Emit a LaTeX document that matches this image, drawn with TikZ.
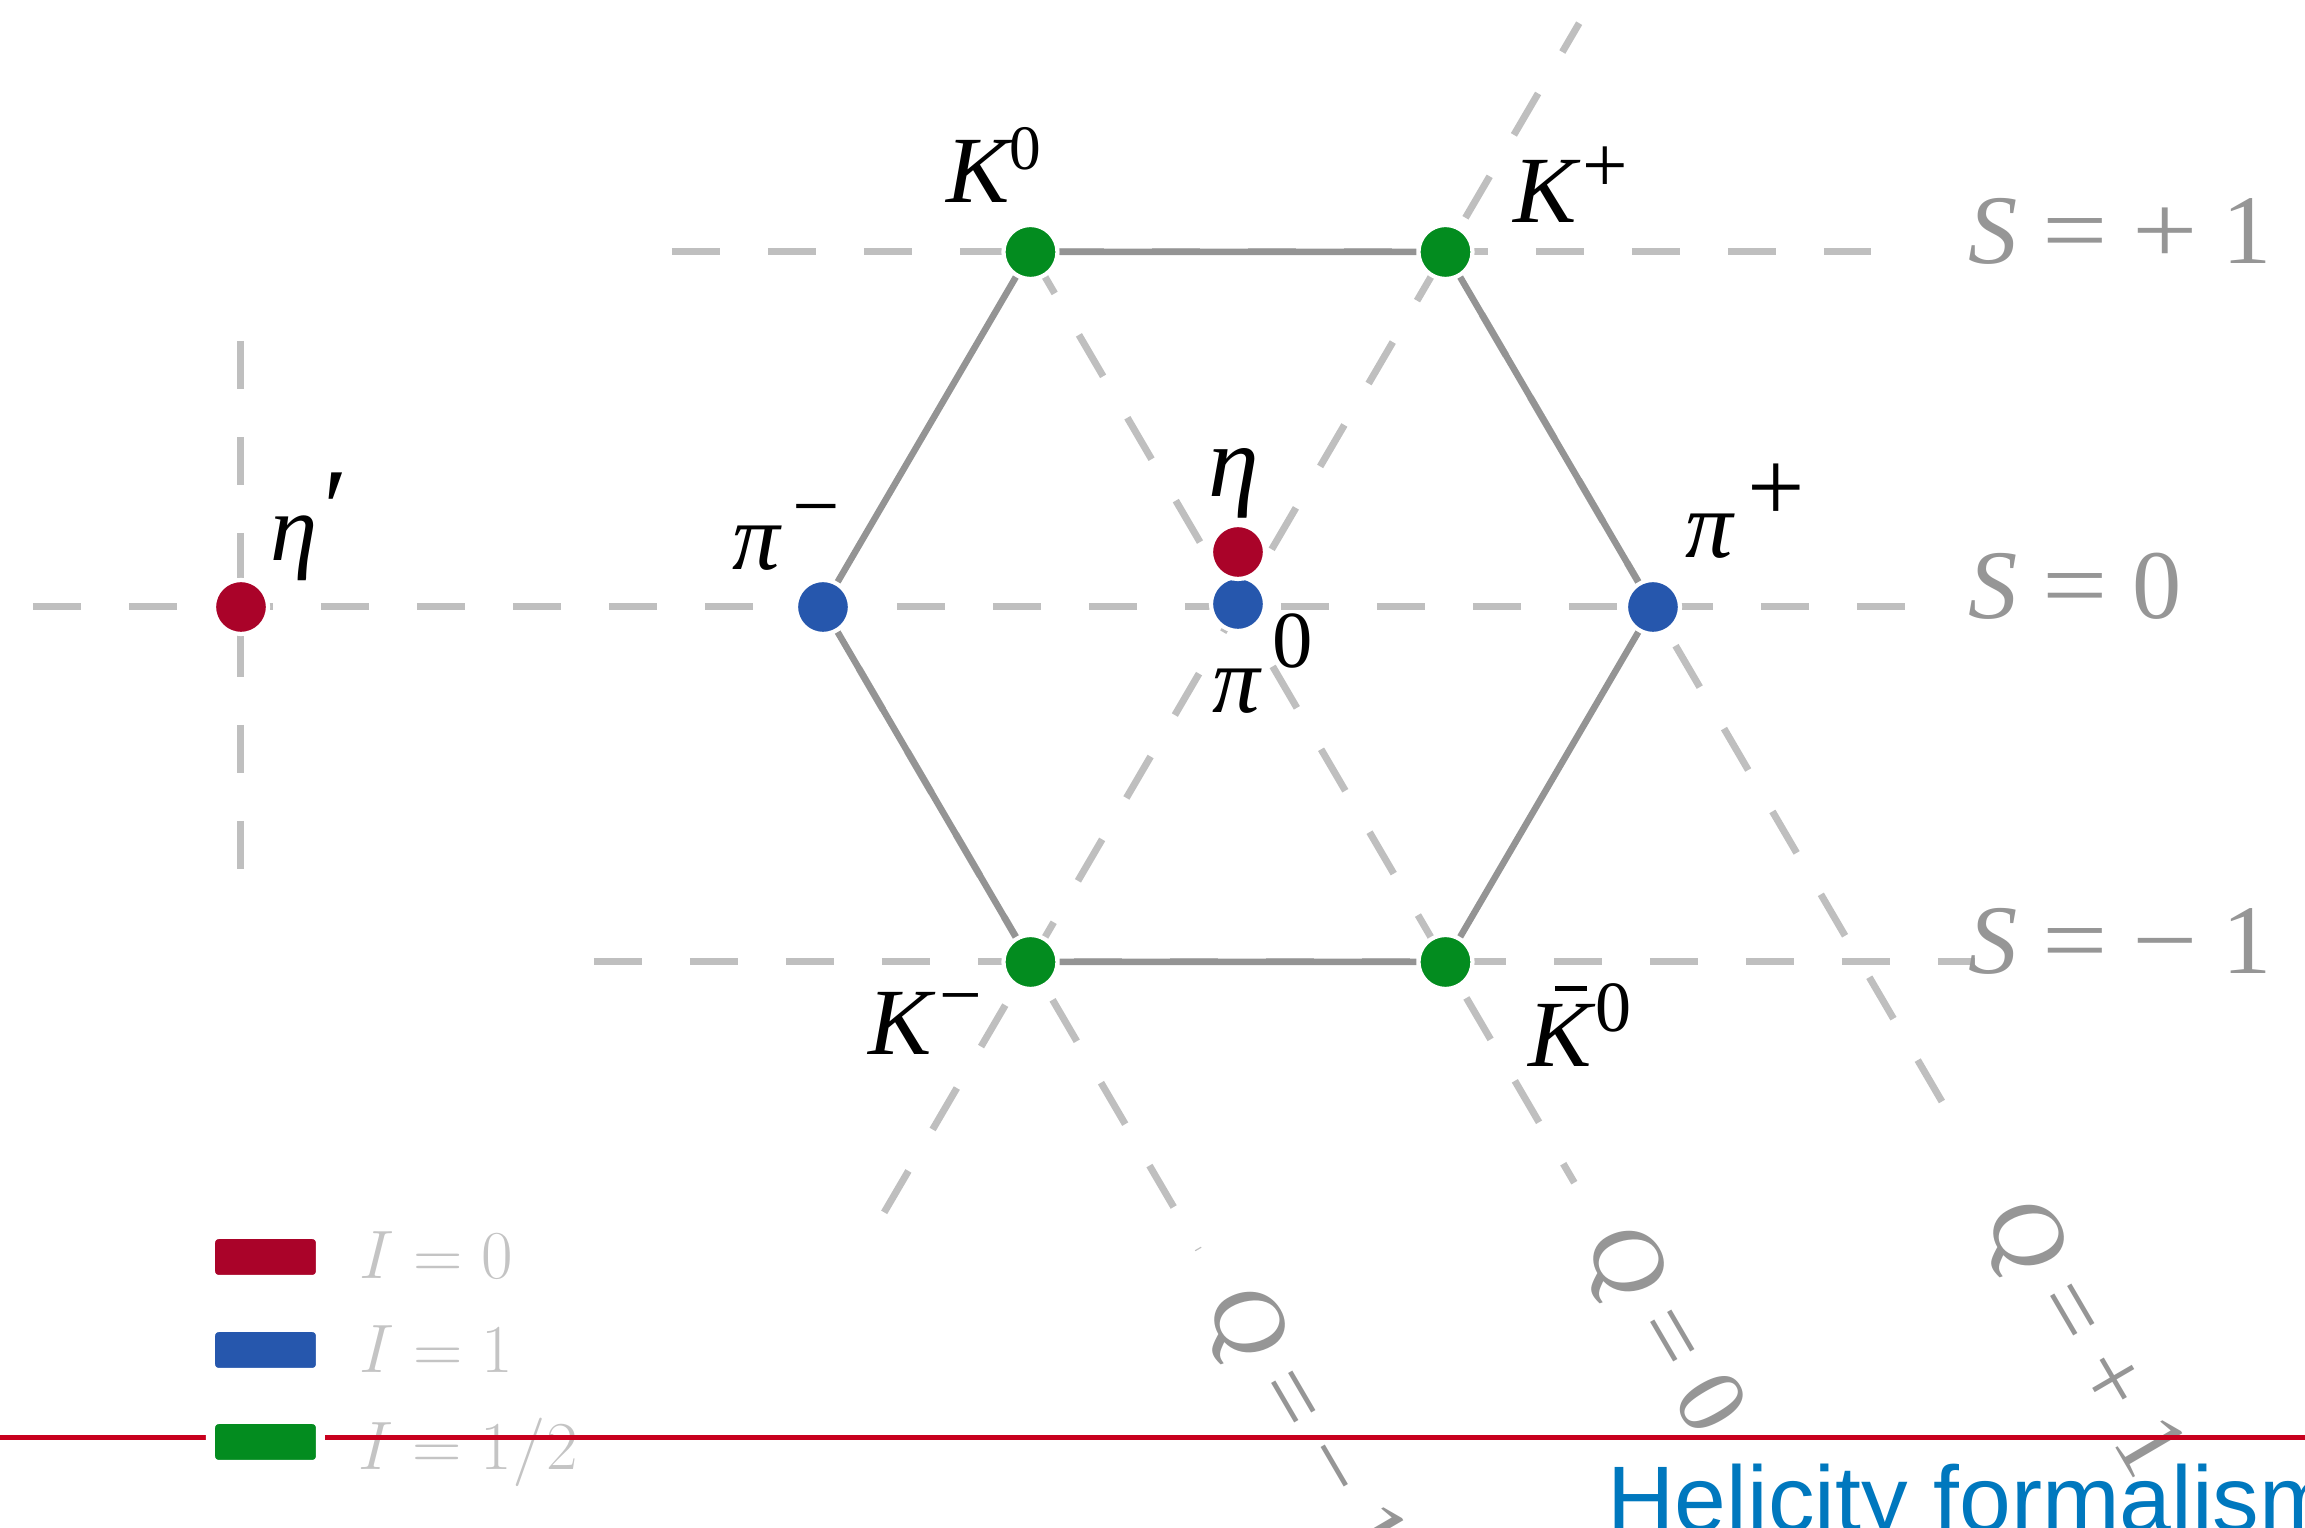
\RequirePackage{fix-cm}
\documentclass[tikz,border=0pt]{standalone}
\usepackage[no-math]{fontspec}
\setmainfont{Liberation Serif}
\newfontfamily\slidefont{Liberation Sans}
\usepackage{graphicx}
\usepackage{tikz}
\definecolor{isored}{RGB}{170, 3, 41}
\definecolor{isoblue}{RGB}{38, 87, 173}
\definecolor{isogreen}{RGB}{3, 140, 31}
\definecolor{gridgray}{RGB}{191, 191, 191}
\definecolor{edgegray}{RGB}{148, 148, 148}
\definecolor{labelgray}{RGB}{150, 150, 150}
\definecolor{legendgray}{RGB}{196, 196, 196}
\definecolor{slidered}{RGB}{200, 0, 30}
\definecolor{slideblue}{RGB}{0, 120, 190}
\usetikzlibrary{positioning, calc, backgrounds}

\newcommand{\chg}[3]{\raisebox{#1}{\fontsize{#2}{#2}\selectfont\upshape #3}}
\newcommand{\kbar}{\makebox[0pt][l]{\kern0.28em\rule[0.8em]{0.33em}{0.055em}}K}
\newcommand{\wop}[1]{\scalebox{1.18}[1]{#1}}

\tikzset{
    meson/.style={circle, fill=#1, draw=white, line width=1.2pt, minimum size=0.54cm, inner sep=0pt},
    gridline/.style={draw=gridgray, line width=0.07cm, dash pattern=on 0.48cm off 0.48cm},
    hexedge/.style={draw=edgegray, line width=0.065cm},
    mlabel/.style={font=\fontsize{27}{30}\selectfont\itshape, inner sep=0pt, anchor=base west},
    slabel/.style={text=labelgray, font=\fontsize{28}{32}\selectfont, inner sep=0pt, anchor=base west},
    qlabel/.style={slabel, anchor=west, rotate=-59.7},
    swatch/.style={fill=#1, draw=white, line width=0.09cm, rounded corners=0.08cm, minimum width=1.10cm, minimum height=0.45cm, inner sep=0pt},
    isolabel/.style={text=legendgray, font=\fontsize{19.5}{22}\selectfont, inner sep=0pt, anchor=base west}
}

\begin{document}
\begin{tikzpicture}
        \useasboundingbox (-12.38,-9.21) rectangle (10.67,6.07);

        \node[meson=isored] (etap) at (-9.97,0) {};
        \node[meson=isoblue] (pim) at (-4.15,0) {};
        \node[meson=isoblue] (pip) at (4.15,0) {};
        \node[meson=isoblue] (pi0) at (0,0.03) {};
        \node[meson=isored] (eta) at (0,0.55) {};
        \node[meson=isogreen] (K0) at (-2.075,3.55) {};
        \node[meson=isogreen] (Kp) at (2.075,3.55) {};
        \node[meson=isogreen] (Km) at (-2.075,-3.55) {};
        \node[meson=isogreen] (K0b) at (2.075,-3.55) {};

        \coordinate (s0w) at (-12.05,0);
        \coordinate (s0e) at (6.67,0);
        \coordinate (s1w) at (-5.66,3.55);
        \coordinate (s1e) at (6.33,3.55);
        \coordinate (s2w) at (-6.44,-3.55);
        \coordinate (s2e) at (7.37,-3.55);
        \coordinate (etapn) at (-9.97,2.66);
        \coordinate (etaps) at (-9.97,-2.62);
        \coordinate (diagsw) at ($(Km.center)+(239.7:2.90)$);
        \coordinate (diagne) at ($(Kp.center)+(59.7:2.65)$);
        \coordinate (qmend) at ($(Km.center)+(-59.7:3.33)$);
        \coordinate (qzend) at ($(K0.center)+(-59.7:10.78)$);
        \coordinate (qpend) at ($(Kp.center)+(-59.7:9.84)$);

        \begin{scope}[on background layer]
            \draw[gridline] (s0w) -- (s0e);
            \draw[gridline] (s1w) -- (s1e);
            \draw[gridline] (s2w) -- (s2e);
            \draw[gridline] (etapn) -- (etaps);
            \draw[gridline] (diagsw) -- (diagne);
            \draw[gridline, dash phase=0.25cm] (pim.center) -- (qmend);
            \draw[gridline] (K0.center) -- (qzend);
            \draw[gridline, dash phase=0.24cm] (Kp.center) -- (qpend);
        \end{scope}

        \draw[hexedge] (K0) -- (Kp) -- (pip) -- (K0b) -- (Km) -- (pim) -- (K0);

        \node[mlabel] (K0lab) at ($(K0)+(-0.845,0.49)$) {K\chg{9.4pt}{18}{0}};
        \node[mlabel] (Kplab) at ($(Kp)+(0.675,0.29)$) {K\kern1.5pt\chg{8.8pt}{23}{+}};
        \node[mlabel] (pimlab) at ($(pim)+(-0.91,0.37)$) {π\kern3.5pt\chg{10pt}{24}{−}};
        \node[mlabel] (piplab) at ($(pip)+(0.32,0.49)$) {π\kern4pt\chg{10.5pt}{29}{+}};
        \node[mlabel] (etalab) at ($(eta)+(-0.30,0.55)$) {\fontsize{29}{30}\selectfont η};
        \node[mlabel] (pi0lab) at ($(pi0)+(-0.26,-1.09)$) {π\kern3.5pt\chg{12.8pt}{23}{0}};
        \node[mlabel] (etaplab) at ($(etap)+(0.29,0.46)$) {η\kern1.5pt\chg{4pt}{32}{′}};
        \node[mlabel] (Kmlab) at ($(Km)+(-1.625,-0.93)$) {K\kern2pt\chg{9.7pt}{21.5}{−}};
        \node[mlabel] (K0blab) at ($(K0b)+(0.825,-1.05)$) {\kbar\kern1pt\chg{10pt}{20.5}{0}};

        \node[slabel] (Splus) at (7.30,3.43) {\textit{S} \wop{=} \wop{+} 1};
        \node[slabel] (Szero) at (7.30,-0.12) {\textit{S} \wop{=} 0};
        \node[slabel] (Sminus) at (7.30,-3.67) {\textit{S} \wop{=} \wop{−} 1};

        \node[qlabel] (Qminus) at ($(Km.center)+(-59.7:3.84)$) {\textit{Q} = − 1};
        \node[qlabel] (Qzero) at ($(K0.center)+(-59.7:11.36)$) {\textit{Q} = 0};
        \node[qlabel] (Qplus) at ($(Kp.center)+(-59.7:11.06)$) {\textit{Q} = + 1};

        \node[isolabel] (I0) at (-8.79,-6.72) {$I = 0$};
        \node[isolabel] (I1) at (-8.79,-7.66) {$I = 1$};
        \node[isolabel] (Ihalf) at (-8.80,-8.63) {$I = 1/2$};

        \coordinate (rulew) at (-12.38,-8.31);
        \coordinate (rulee) at (10.67,-8.31);
        \draw[slidered, line width=0.05cm] (rulew) -- (rulee);

        \node[swatch=isored] (sw0) at (-9.725,-6.50) {};
        \node[swatch=isoblue] (sw1) at (-9.725,-7.43) {};
        \node[swatch=isogreen] (swhalf) at (-9.725,-8.35) {};

        \node[text=slideblue, font=\slidefont\fontsize{26.5}{30}\selectfont, inner sep=0pt, anchor=base west] (title) at (3.69,-9.25) {Helicity formalism};
\end{tikzpicture}
\end{document}
